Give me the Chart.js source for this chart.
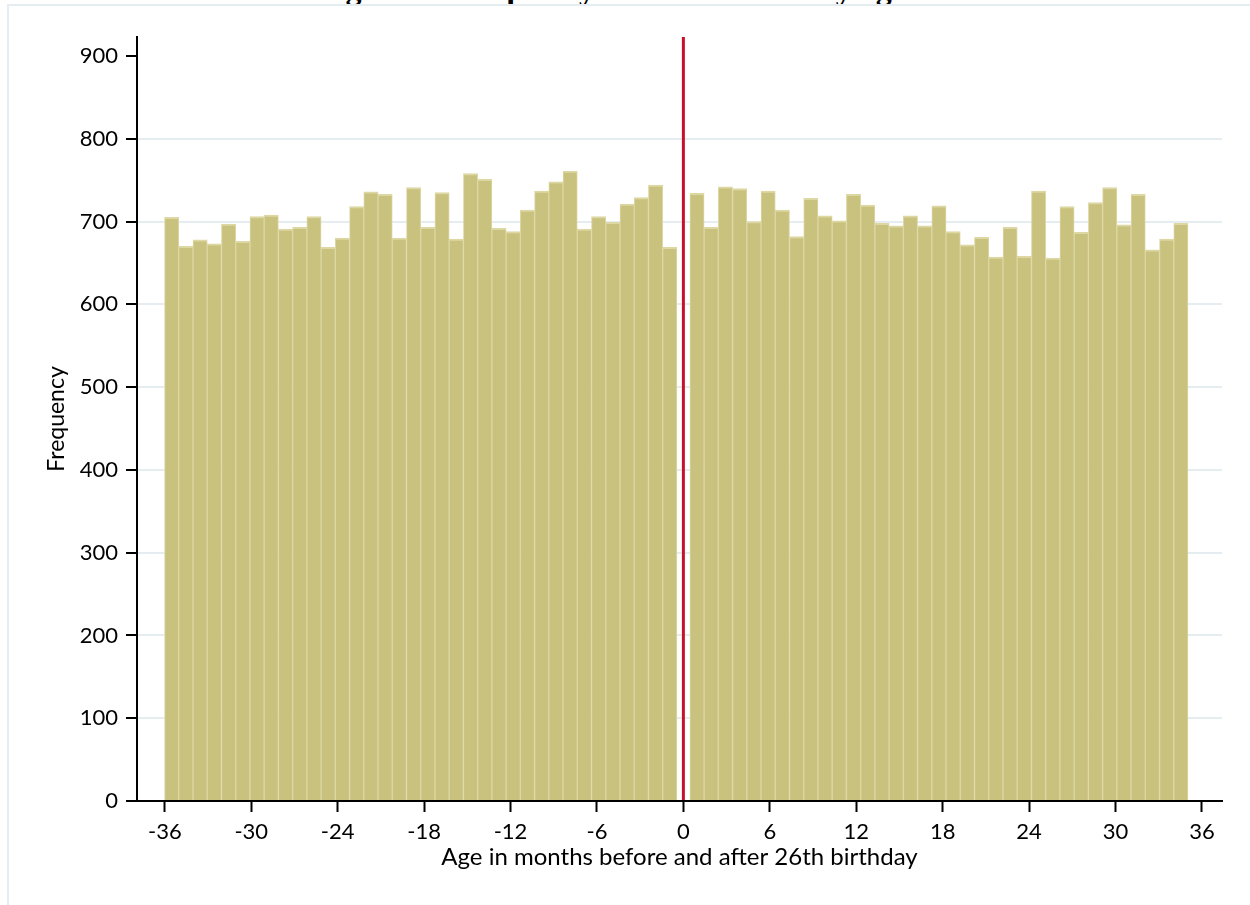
<!DOCTYPE html>
<html>
<head>
<meta charset="utf-8">
<script src="https://cdn.jsdelivr.net/npm/chart.js@4.4.1/dist/chart.umd.min.js"></script>
<style>
  body { margin: 0; background: #fff; overflow: hidden; }
  #wrap { position: relative; width: 1250px; height: 905px; overflow: hidden; }
  #frame { position: absolute; left: 7px; top: 4px; right: -5px; bottom: -5px;
           border-top: 2px solid #e6edf0; border-left: 2px solid #e6edf0; }
  #title { position: absolute; left: 317px; top: -30px; line-height: 28px;
           font: bold 32px "Liberation Serif", serif; color: #000; white-space: nowrap; }
  canvas { position: absolute; left: 0; top: 0; }
</style>
</head>
<body>
<div id="wrap">
  <div id="title">Figure 2: Frequency of observations by age</div>
  <div id="frame"></div>
  <canvas id="histCanvas" width="1250" height="905"></canvas>
</div>
<script>
// counts per month bin, before the 26th birthday (-36 .. -1)
const countsBefore = [705, 670, 678, 673, 697, 676, 706, 708, 691, 693, 706, 669,
                      680, 718, 736, 733, 680, 741, 693, 735, 679, 758, 751, 692,
                      688, 714, 737, 748, 761, 691, 706, 699, 721, 729, 744, 669];
// counts per month bin, after the 26th birthday (0 .. 34)
const countsAfter = [734, 693, 742, 740, 700, 737, 714, 682, 728, 707, 701, 733,
                     720, 698, 695, 707, 695, 719, 688, 672, 681, 657, 693, 658,
                     737, 656, 718, 687, 723, 741, 696, 733, 666, 679, 698];
const xTicks = [-36, -30, -24, -18, -12, -6, 0, 6, 12, 18, 24, 30, 36];
const yTicks = [0, 100, 200, 300, 400, 500, 600, 700, 800, 900];

// bins are a bit narrower than a month and leave a gap around the cutoff
const binWidth = 0.988;
const cutoffGap = 0.45;
const bars = [];
countsBefore.forEach((c, i) => {
  bars.push({x: -(cutoffGap + (countsBefore.length - 1 - i + 0.5) * binWidth), y: c});
});
countsAfter.forEach((c, i) => {
  bars.push({x: cutoffGap + (i + 0.5) * binWidth, y: c});
});

const yMax = 923;
const tickFont = {family: 'Lato', size: 22};

const histChart = new Chart(document.getElementById('histCanvas'), {
  type: 'bar',
  data: {
    datasets: [{
      type: 'line',
      data: [{x: 0, y: 0}, {x: 0, y: yMax}],
      borderColor: '#c8102e',
      borderWidth: 3,
      pointRadius: 0,
      order: 0
    }, {
      type: 'bar',
      data: bars,
      backgroundColor: '#c9c27e',
      borderColor: '#ddd7a4',
      borderWidth: {top: 2, left: 1, right: 1, bottom: 0},
      borderSkipped: false,
      barPercentage: 1,
      categoryPercentage: 1,
      order: 1
    }]
  },
  options: {
    responsive: false,
    animation: false,
    layout: {padding: {top: 37, right: 28, left: 0, bottom: 0}},
    plugins: {legend: {display: false}, tooltip: {enabled: false}},
    scales: {
      x: {
        type: 'linear',
        min: -37.93,
        max: 37.39,
        offset: false,
        afterBuildTicks: axis => { axis.ticks = xTicks.map(v => ({value: v})); },
        afterFit: axis => { axis.height = 104; },
        grid: {drawOnChartArea: false, offset: false, tickColor: '#000', tickLength: 11, tickWidth: 2},
        border: {color: '#000', width: 2, z: 1},
        ticks: {font: tickFont, color: '#000', padding: 7, maxRotation: 0, autoSkip: false,
                callback: v => String(v)},
        title: {display: true, text: 'Age in months before and after 26th birthday',
                font: {family: 'Lato', size: 24}, color: '#000', padding: {top: 0, bottom: 33}}
      },
      y: {
        min: 0,
        max: yMax,
        afterBuildTicks: axis => { axis.ticks = yTicks.map(v => ({value: v})); },
        afterFit: axis => { axis.width = 137; },
        grid: {
          color: c => (c.tick && (c.tick.value === 0 || c.tick.value === 900)) ? 'rgba(0,0,0,0)' : '#e5edf1',
          lineWidth: 2,
          tickColor: '#000',
          tickLength: 11,
          tickWidth: 2
        },
        border: {color: '#000', width: 2, z: 1},
        ticks: {font: tickFont, color: '#000', padding: 8, autoSkip: false, callback: v => String(v)},
        title: {display: true, text: 'Frequency', font: {family: 'Lato', size: 23}, color: '#000',
                padding: {top: 43, bottom: 0}}
      }
    }
  }
});
</script>
</body>
</html>
